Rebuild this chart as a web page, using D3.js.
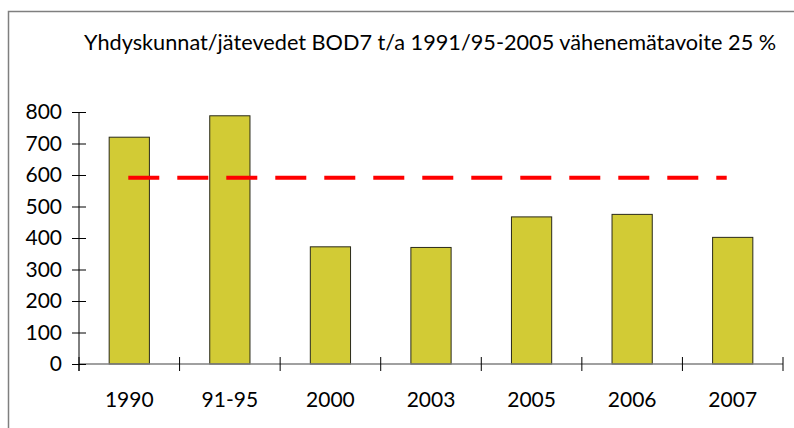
<!DOCTYPE html>
<html>
<head>
<meta charset="utf-8">
<script src="https://cdn.jsdelivr.net/npm/d3@7"></script>
<style>
  body { margin: 0; background: #fff; }
  svg { display: block; font-family: Lato, "DejaVu Sans", sans-serif; }
</style>
</head>
<body>
<script>
// chart data
var categories = ["1990", "91-95", "2000", "2003", "2005", "2006", "2007"];
var values = [720, 788, 372, 370, 467, 475, 402];
var target = 591; // 25 % reduction target
var yTicks = [0, 100, 200, 300, 400, 500, 600, 700, 800];
var title = "Yhdyskunnat/jätevedet BOD7 t/a 1991/95-2005 vähenemätavoite 25 %";

var width = 794, height = 428;

var svg = d3.select("body").append("svg")
    .attr("width", width)
    .attr("height", height);

// outer frame (runs off the right and bottom edge)
svg.append("rect")
    .attr("x", 8.5).attr("y", 11.5)
    .attr("width", 800).attr("height", 430)
    .attr("fill", "none")
    .attr("stroke", "#7f7f7f")
    .attr("stroke-width", 1.5);

var x = d3.scaleBand()
    .domain(categories)
    .range([79, 783])
    .paddingInner(0.6)
    .paddingOuter(0.3);

var y = d3.scaleLinear()
    .domain([0, 800])
    .range([364, 112]);

// title
svg.append("text")
    .attr("x", 84)
    .attr("y", 50)
    .attr("font-size", 21.7)
    .attr("fill", "#000")
    .text(title);

// bars
svg.selectAll("rect.bar")
    .data(values)
    .enter()
    .append("rect")
    .attr("class", "bar")
    .attr("x", function(d, i) { return x(categories[i]); })
    .attr("y", function(d) { return y(d); })
    .attr("width", x.bandwidth())
    .attr("height", function(d) { return y(0) - y(d); })
    .attr("fill", "#d2cb35")
    .attr("stroke", "#2a2a1a")
    .attr("stroke-width", 1);

// x axis line + ticks at band boundaries
svg.append("line")
    .attr("x1", 79).attr("x2", 783)
    .attr("y1", y(0)).attr("y2", y(0))
    .attr("stroke", "#808080")
    .attr("stroke-width", 1.5);

var bounds = categories.map(function(c, i) { return x.range()[0] + i * x.step(); });
bounds.push(x.range()[1]);
svg.selectAll("line.xtick")
    .data(bounds)
    .enter()
    .append("line")
    .attr("class", "xtick")
    .attr("x1", function(d) { return d; })
    .attr("x2", function(d) { return d; })
    .attr("y1", y(0) - 7)
    .attr("y2", y(0) + 7)
    .attr("stroke", "#000")
    .attr("stroke-width", 1);

svg.selectAll("text.xlab")
    .data(categories)
    .enter()
    .append("text")
    .attr("class", "xlab")
    .attr("x", function(d) { return x(d) + x.bandwidth() / 2; })
    .attr("y", 407)
    .attr("text-anchor", "middle")
    .attr("font-size", 21)
    .text(function(d) { return d; });

// y axis
var yAxis = d3.axisLeft(y)
    .tickValues(yTicks)
    .tickSize(7)
    .tickPadding(10)
    .tickFormat(d3.format("d"));

var gy = svg.append("g")
    .attr("transform", "translate(79,0)")
    .call(yAxis);

gy.select(".domain").remove();
gy.append("line")
    .attr("y1", y(800)).attr("y2", y(0) + 7)
    .attr("stroke", "#000");
gy.selectAll(".tick line")
    .attr("x1", 7)
    .attr("stroke", "#000");
gy.selectAll(".tick text")
    .attr("font-family", "Lato, sans-serif")
    .attr("font-size", 21)
    .attr("fill", "#000");

// target dashed line
svg.append("line")
    .attr("x1", x(categories[0]) + x.bandwidth() / 2 - 1)
    .attr("x2", x(categories[categories.length - 1]) + x.bandwidth() / 2 - 6)
    .attr("y1", y(target))
    .attr("y2", y(target))
    .attr("stroke", "#ff0000")
    .attr("stroke-width", 4)
    .attr("stroke-dasharray", "31,18");
</script>
</body>
</html>
